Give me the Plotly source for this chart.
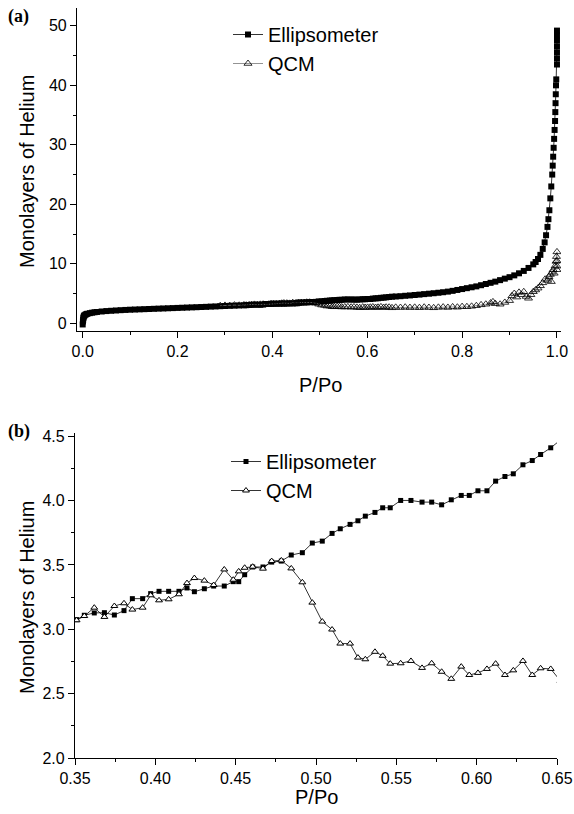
import plotly.graph_objects as go

# ---------------- data ----------------
# Panel (b) / middle range, shared P/Po values
mid_x = [0.3448, 0.3510, 0.3558, 0.3620, 0.3683, 0.3745, 0.3805, 0.3857, 0.3921, 0.3971,
         0.4023, 0.4083, 0.4147, 0.4197, 0.4243, 0.4305, 0.4363, 0.4429, 0.4485, 0.4519,
         0.4556, 0.4606, 0.4670, 0.4724, 0.4784, 0.4846, 0.4915, 0.4977, 0.5039, 0.5100,
         0.5151, 0.5212, 0.5261, 0.5307, 0.5367, 0.5415, 0.5462, 0.5527, 0.5591, 0.5660,
         0.5720, 0.5782, 0.5842, 0.5904, 0.5954, 0.6008, 0.6064, 0.6118, 0.6176, 0.6228,
         0.6288, 0.6346, 0.6398, 0.6461, 0.6521]
mid_ellip = [3.040, 3.075, 3.109, 3.127, 3.129, 3.111, 3.145, 3.238, 3.238, 3.277,
             3.295, 3.295, 3.295, 3.321, 3.292, 3.315, 3.336, 3.336, 3.370, 3.370,
             3.424, 3.484, 3.484, 3.522, 3.530, 3.577, 3.595, 3.670, 3.685, 3.745,
             3.781, 3.815, 3.843, 3.879, 3.908, 3.944, 3.944, 4.001, 4.001, 3.988,
             3.988, 3.967, 4.006, 4.040, 4.040, 4.076, 4.076, 4.151, 4.187, 4.208,
             4.278, 4.311, 4.358, 4.410, 4.470]
mid_qcm = [3.040, 3.070, 3.103, 3.168, 3.096, 3.181, 3.202, 3.153, 3.168, 3.264,
           3.225, 3.233, 3.272, 3.359, 3.398, 3.378, 3.344, 3.465, 3.385, 3.450,
           3.478, 3.486, 3.471, 3.530, 3.535, 3.473, 3.365, 3.207, 3.060, 2.998,
           2.889, 2.889, 2.780, 2.767, 2.825, 2.794, 2.733, 2.736, 2.754, 2.700,
           2.736, 2.670, 2.615, 2.710, 2.645, 2.661, 2.692, 2.733, 2.645, 2.681,
           2.754, 2.645, 2.697, 2.692, 2.600]

# Low pressure range (panel a only)
low_ellip_x = [0.0, 0.0005, 0.001, 0.0015, 0.002, 0.003, 0.004, 0.006, 0.008, 0.01,
               0.015, 0.02, 0.025, 0.03, 0.04, 0.05, 0.06, 0.07, 0.08, 0.09,
               0.10, 0.11, 0.12, 0.13, 0.14, 0.15, 0.16, 0.17, 0.18, 0.19,
               0.20, 0.21, 0.22, 0.23, 0.24, 0.25, 0.26, 0.27, 0.28, 0.29,
               0.30, 0.31, 0.32, 0.33, 0.34]
low_ellip_y = [-0.2, 0.3, 0.6, 0.9, 1.1, 1.25, 1.35, 1.45, 1.55, 1.6,
               1.7, 1.78, 1.85, 1.9, 1.98, 2.05, 2.1, 2.15, 2.2, 2.24,
               2.28, 2.31, 2.34, 2.37, 2.4, 2.43, 2.46, 2.49, 2.52, 2.55,
               2.58, 2.61, 2.64, 2.67, 2.7, 2.73, 2.76, 2.8, 2.83, 2.87,
               2.9, 2.93, 2.96, 2.99, 3.02]
low_qcm_x = [0.29, 0.30, 0.31, 0.32, 0.33, 0.34]
low_qcm_y = [2.95, 3.0, 2.98, 3.05, 3.02, 3.08]

# High pressure range (panel a only)
high_ellip_x = [0.66, 0.67, 0.68, 0.69, 0.70, 0.71, 0.72, 0.73, 0.74, 0.75,
                0.76, 0.77, 0.78, 0.79, 0.80, 0.81, 0.82, 0.83, 0.84, 0.85,
                0.86, 0.87, 0.88, 0.89, 0.90, 0.91, 0.92, 0.93, 0.94, 0.95,
                0.955, 0.96, 0.965, 0.97, 0.974, 0.977, 0.980, 0.982, 0.984, 0.986,
                0.988, 0.990, 0.991, 0.992, 0.993, 0.994, 0.995, 0.996, 0.9965, 0.997,
                0.9975, 0.998, 0.9985, 1.0, 1.0, 1.0, 1.0, 1.0, 1.0, 1.0]
high_ellip_y = [4.5, 4.55, 4.62, 4.68, 4.75, 4.82, 4.9, 4.97, 5.05, 5.13,
                5.22, 5.32, 5.45, 5.6, 5.75, 5.9, 6.05, 6.2, 6.4, 6.6,
                6.8, 7.0, 7.25, 7.5, 7.75, 8.05, 8.4, 8.8, 9.3, 9.9,
                10.3, 10.8, 11.5, 12.5, 13.6, 14.8, 16.2, 17.5, 19.0, 21.0,
                23.0, 25.0, 26.5, 28.0, 29.5, 31.0, 32.5, 34.0, 35.5, 37.0,
                38.5, 40.0, 41.0, 43.5, 44.5, 45.5, 46.5, 47.5, 48.4, 49.2]
high_qcm_x = [0.66, 0.67, 0.68, 0.69, 0.70, 0.71, 0.72, 0.73, 0.74, 0.75,
              0.76, 0.77, 0.78, 0.79, 0.80, 0.81, 0.82, 0.83, 0.84, 0.85,
              0.86, 0.865, 0.87, 0.88, 0.89, 0.90, 0.905, 0.91, 0.915, 0.92,
              0.925, 0.93, 0.935, 0.94, 0.945, 0.95, 0.955, 0.96, 0.965, 0.97,
              0.975, 0.98, 0.983, 0.986, 0.988, 0.99, 0.992, 0.994, 0.996, 0.998,
              0.999, 1.0, 1.0, 1.0, 1.0]
high_qcm_y = [2.68, 2.65, 2.7, 2.64, 2.68, 2.62, 2.7, 2.65, 2.6, 2.68,
              2.72, 2.66, 2.75, 2.7, 2.8, 2.78, 2.85, 2.95, 3.1, 3.2,
              3.4, 3.6, 3.3, 3.2, 3.5, 3.8, 4.6, 5.0, 4.4, 5.2,
              4.8, 5.3, 4.5, 4.2, 4.8, 5.3, 5.6, 5.9, 6.3, 6.8,
              7.4, 7.2, 7.8, 8.2, 7.0, 8.6, 9.0, 8.4, 9.6, 10.4,
              11.2, 12.0, 10.5, 9.6, 9.0]

a_x_ticks = [0.0, 0.2, 0.4, 0.6, 0.8, 1.0]
a_y_ticks = [0, 10, 20, 30, 40, 50]
b_x_ticks = [0.35, 0.40, 0.45, 0.50, 0.55, 0.60, 0.65]
b_y_ticks = [2.0, 2.5, 3.0, 3.5, 4.0, 4.5]

# ---------------- figure ----------------
W, H = 574, 814
FONT = "Liberation Sans, Arial, sans-serif"

ellip_a_x = low_ellip_x + mid_x + high_ellip_x
ellip_a_y = low_ellip_y + mid_ellip + high_ellip_y
qcm_a_x = low_qcm_x + mid_x + high_qcm_x
qcm_a_y = low_qcm_y + mid_qcm + high_qcm_y

fig = go.Figure()

fig.add_trace(go.Scatter(
    x=ellip_a_x, y=ellip_a_y, name="Ellipsometer", mode="lines+markers",
    xaxis="x", yaxis="y", legend="legend",
    line=dict(color="black", width=0.8),
    marker=dict(symbol="square", size=6, color="black", line=dict(width=0)),
))
fig.add_trace(go.Scatter(
    x=qcm_a_x, y=qcm_a_y, name="QCM", mode="lines+markers",
    xaxis="x", yaxis="y", legend="legend",
    line=dict(color="#777777", width=0.8),
    marker=dict(symbol="triangle-up-open", size=7, color="black", line=dict(width=0.8)),
))
fig.add_trace(go.Scatter(
    x=mid_x, y=mid_ellip, name="Ellipsometer", mode="lines+markers",
    xaxis="x2", yaxis="y2", legend="legend2",
    line=dict(color="black", width=0.8),
    marker=dict(symbol="square", size=5, color="black", line=dict(width=0)),
))
fig.add_trace(go.Scatter(
    x=mid_x, y=mid_qcm, name="QCM", mode="lines+markers",
    xaxis="x2", yaxis="y2", legend="legend2",
    line=dict(color="black", width=0.8),
    marker=dict(symbol="triangle-up", size=6, color="white", line=dict(width=1, color="black")),
))

axis_common = dict(
    showline=True, linecolor="black", linewidth=1.2, mirror=False,
    ticks="outside", ticklen=6, tickwidth=1.2, tickcolor="black",
    showgrid=False, zeroline=False, automargin=False,
    tickfont=dict(family=FONT, size=16, color="black"),
)

fig.update_layout(
    template="none",
    width=W, height=H, margin=dict(l=0, r=0, t=0, b=0, pad=0), autosize=False,
    plot_bgcolor="white", paper_bgcolor="white",
    font=dict(family=FONT, size=16, color="black"),
    xaxis=dict(axis_common, domain=[77 / W, 561 / W], range=[-0.012, 1.0085],
               anchor="y", tickvals=a_x_ticks, tickformat=".1f",
               minor=dict(ticks="outside", ticklen=3, tickwidth=1, dtick=0.1, tick0=0)),
    yaxis=dict(axis_common, domain=[1 - 331 / H, 1 - 8 / H], range=[-1.3, 53.0],
               anchor="x", tickvals=a_y_ticks,
               minor=dict(ticks="outside", ticklen=3, tickwidth=1, dtick=5, tick0=0)),
    xaxis2=dict(axis_common, domain=[75 / W, 557 / W], range=[0.35, 0.65],
                anchor="y2", tickvals=b_x_ticks, tickformat=".2f",
                minor=dict(ticks="outside", ticklen=3, tickwidth=1, dtick=0.025, tick0=0.35)),
    yaxis2=dict(axis_common, domain=[1 - 758 / H, 1 - 433 / H], range=[2.0, 4.525],
                anchor="x2", tickvals=b_y_ticks, tickformat=".1f",
                minor=dict(ticks="outside", ticklen=3, tickwidth=1, dtick=0.25, tick0=2.0)),
    legend=dict(x=228 / W, y=1 - 15 / H, xanchor="left", yanchor="top",
                bgcolor="rgba(0,0,0,0)", font=dict(family=FONT, size=20),
                tracegroupgap=0, itemsizing="trace"),
    legend2=dict(x=226 / W, y=1 - 442 / H, xanchor="left", yanchor="top",
                 bgcolor="rgba(0,0,0,0)", font=dict(family=FONT, size=20),
                 tracegroupgap=0, itemsizing="trace"),
    showlegend=True,
)

annos = [
    dict(text="<b>(a)</b>", x=6 / W, y=1 - 17 / H, xanchor="left", yanchor="middle",
         font=dict(family="Liberation Serif, Times New Roman, serif", size=18, color="black")),
    dict(text="<b>(b)</b>", x=6 / W, y=1 - 431 / H, xanchor="left", yanchor="middle",
         font=dict(family="Liberation Serif, Times New Roman, serif", size=18, color="black")),
    dict(text="P/Po", x=(84 + 557) / 2 / W, y=1 - 385 / H, xanchor="center", yanchor="middle",
         font=dict(family=FONT, size=20, color="black")),
    dict(text="P/Po", x=(75 + 557) / 2 / W, y=1 - 797 / H, xanchor="center", yanchor="middle",
         font=dict(family=FONT, size=20, color="black")),
    dict(text="Monolayers of Helium", x=27 / W, y=1 - 172 / H, xanchor="center", yanchor="middle",
         textangle=-90, font=dict(family=FONT, size=20, color="black")),
    dict(text="Monolayers of Helium", x=27 / W, y=1 - 598 / H, xanchor="center", yanchor="middle",
         textangle=-90, font=dict(family=FONT, size=20, color="black")),
]
for a in annos:
    a.update(xref="paper", yref="paper", showarrow=False)
fig.update_layout(annotations=annos)

fig.write_html("out.html",
               config={"displayModeBar": False},
               post_script="document.body.style.margin='0';document.body.style.overflow='hidden';")
